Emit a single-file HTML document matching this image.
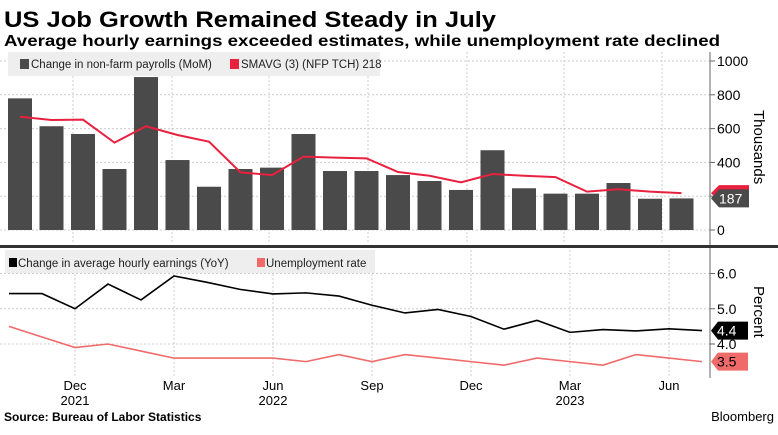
<!DOCTYPE html>
<html><head><meta charset="utf-8"><style>
body{margin:0;background:#fff}
svg{display:block;font-family:"Liberation Sans",sans-serif}
</style></head><body>
<svg id="c" width="778" height="435" viewBox="0 0 778 435">
<text x="4" y="27" font-size="22" font-weight="bold" fill="#000" textLength="492" lengthAdjust="spacingAndGlyphs">US Job Growth Remained Steady in July</text>
<text x="4" y="46" font-size="16" font-weight="bold" fill="#000" textLength="716" lengthAdjust="spacingAndGlyphs">Average hourly earnings exceeded estimates, while unemployment rate declined</text>
<g id="topG"></g>
<g id="botG"></g>
<text x="4" y="421" font-size="12" font-weight="bold" fill="#000">Source: Bureau of Labor Statistics</text>
<text x="774" y="421" font-size="13" text-anchor="end" fill="#000">Bloomberg</text>
</svg>
<script>
const payrolls=[779,614,568,361,905,414,256,361,369,568,349,349,325,290,237,472,247,215,215,278,185,187];
const smavg=[670,651,653,517,614,562,523,341,325,434,428,424,343,321,282,331,321,313,227,241,227,218];
const topTicks=[0,200,400,600,800,1000];
const earnings=[5.43,5.43,5.0,5.7,5.25,5.93,5.75,5.55,5.42,5.45,5.36,5.1,4.88,4.98,4.78,4.42,4.67,4.33,4.41,4.37,4.43,4.38];
const unemp=[4.5,4.2,3.9,4.0,3.8,3.6,3.6,3.6,3.6,3.5,3.7,3.5,3.7,3.6,3.5,3.4,3.6,3.5,3.4,3.7,3.6,3.5];
const botTicks=[4.0,5.0,6.0];
const monthLabels=["Dec","Mar","Jun","Sep","Dec","Mar","Jun"];
const monthIdx=[2,5,8,11,14,17,20];
const yearLabels=["2021","2022","2023"];
const yearIdx=[2,8,17];

const NS="http://www.w3.org/2000/svg";
function mk(p,t,a){const e=document.createElementNS(NS,t);for(const k in a)e.setAttribute(k,a[k]);p.appendChild(e);return e;}
const topG=document.getElementById('topG'),botG=document.getElementById('botG');
const ty=v=>230-v*0.169;
const tx=i=>20+i*31.5;
const by=v=>273.5+(6-v)*35.25;
const bx=i=>9+i*33;

[73,172,269,368,467,564,662].forEach(x=>{const g=mk(topG,'line',{x1:x,x2:x,y1:52,y2:244,stroke:'#ccc','stroke-dasharray':'2,2'});

});
topTicks.forEach(v=>{
 const g=mk(topG,'line',{x1:0,x2:710,y1:ty(v),y2:ty(v),stroke:'#ccc','stroke-dasharray':'2,2'});
 
 
 const t=mk(topG,'text',{x:717,y:ty(v)+5,'font-size':14,fill:'#000'});t.textContent=v;
 
 
 mk(topG,'line',{x1:710,x2:715,y1:ty(v),y2:ty(v),stroke:'#666'});
});
payrolls.forEach((v,i)=>{
 const r=mk(topG,'rect',{x:tx(i)-12,y:ty(v),width:24,height:ty(0)-ty(v),fill:'#4a4a4a'});
 
 
});
const sl=mk(topG,'polyline',{points:smavg.map((v,i)=>tx(i)+','+ty(v)).join(' '),fill:'none',stroke:'#e8213f','stroke-width':2});


mk(topG,'line',{x1:710,x2:710,y1:52,y2:246,stroke:'#666'});
const lg=mk(topG,'rect',{x:8,y:52,width:372,height:24,fill:'#eeeeee'});


mk(topG,'rect',{x:20,y:59,width:9,height:10,fill:'#4a4a4a'});
let t=mk(topG,'text',{x:31,y:68,'font-size':11.5,fill:'#222'});t.textContent='Change in non-farm payrolls (MoM)';


mk(topG,'rect',{x:230,y:59,width:9,height:10,fill:'#e8213f'});
t=mk(topG,'text',{x:241,y:68,'font-size':11.5,fill:'#222'});t.textContent='SMAVG (3) (NFP TCH) '+smavg[smavg.length-1];


let yv=ty(smavg[smavg.length-1]);
mk(topG,'path',{d:`M711 ${yv} l8 -8 h30 v16 h-30 z`,fill:'#e8213f'});
yv=ty(payrolls[payrolls.length-1]);
mk(topG,'path',{d:`M711 ${yv} l8 -9 h30 v18 h-30 z`,fill:'#4a4a4a'});
t=mk(topG,'text',{x:719,y:yv+5,'font-size':14,fill:'#fff'});t.textContent=payrolls[payrolls.length-1];


t=mk(topG,'text',{x:0,y:0,'font-size':15,fill:'#000',transform:'translate(754,110) rotate(90)'});t.textContent='Thousands';


mk(topG,'rect',{x:0,y:245,width:778,height:3,fill:'#333'});

monthIdx.forEach(i=>{const g=mk(botG,'line',{x1:bx(i),x2:bx(i),y1:250,y2:378,stroke:'#ccc','stroke-dasharray':'2,2'});

});
botTicks.forEach(v=>{
 const g=mk(botG,'line',{x1:0,x2:710,y1:by(v),y2:by(v),stroke:'#ccc','stroke-dasharray':'2,2'});
 
 
 mk(botG,'line',{x1:710,x2:715,y1:by(v),y2:by(v),stroke:'#666'});
 const tt=mk(botG,'text',{x:717,y:by(v)+5,'font-size':14,fill:'#000'});tt.textContent=v.toFixed(1);
 
 
});
const ul=mk(botG,'polyline',{points:unemp.map((v,i)=>bx(i)+','+by(v)).join(' '),fill:'none',stroke:'#f06a6a','stroke-width':1.6});


const el=mk(botG,'polyline',{points:earnings.map((v,i)=>bx(i)+','+by(v)).join(' '),fill:'none',stroke:'#000','stroke-width':1.6});


mk(botG,'line',{x1:710,x2:710,y1:248,y2:378,stroke:'#666'});
const lg2=mk(botG,'rect',{x:5,y:250,width:370,height:23,fill:'#eeeeee'});


mk(botG,'rect',{x:9,y:258,width:8,height:9,fill:'#000'});
t=mk(botG,'text',{x:18,y:267,'font-size':11.5,fill:'#222'});t.textContent='Change in average hourly earnings (YoY)';


mk(botG,'rect',{x:257,y:258,width:8,height:9,fill:'#f06a6a'});
t=mk(botG,'text',{x:266,y:267,'font-size':11.5,fill:'#222'});t.textContent='Unemployment rate';


yv=by(earnings[earnings.length-1]);
mk(botG,'path',{d:`M711 ${yv} l7 -9 h30 v18 h-30 z`,fill:'#000'});
t=mk(botG,'text',{x:717,y:yv+5,'font-size':14,fill:'#fff'});t.textContent=earnings[earnings.length-1].toFixed(1);


yv=by(unemp[unemp.length-1]);
mk(botG,'path',{d:`M711 ${yv} l7 -9 h30 v18 h-30 z`,fill:'#f06a6a'});
t=mk(botG,'text',{x:717,y:yv+5,'font-size':14,fill:'#000'});t.textContent=unemp[unemp.length-1].toFixed(1);


t=mk(botG,'text',{x:0,y:0,'font-size':15,fill:'#000',transform:'translate(754,286) rotate(90)'});t.textContent='Percent';


monthLabels.forEach((m,k)=>{const tt=mk(botG,'text',{x:bx(monthIdx[k]),y:390,'font-size':13,'text-anchor':'middle',fill:'#000'});tt.textContent=m;

});
yearLabels.forEach((m,k)=>{const tt=mk(botG,'text',{x:bx(yearIdx[k]),y:405,'font-size':13,'text-anchor':'middle',fill:'#000'});tt.textContent=m;

});
</script>
</body></html>
